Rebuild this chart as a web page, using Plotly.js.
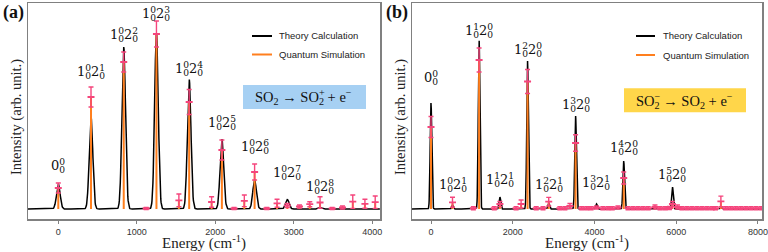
<!DOCTYPE html>
<html><head><meta charset="utf-8">
<script src="https://cdn.plot.ly/plotly-3.0.1.min.js"></script>
<style>html,body{margin:0;padding:0;background:#fff}#chart{width:768px;height:252px}</style>
</head><body><div id="chart"></div>
<script>
// ---------- Panel (a): SO2 -> SO2+ + e- ----------
const theoryEnergyA = [0, 417, 834, 1251, 1668, 2085, 2502, 2919, 3336];
const theoryIntensityA = [25, 92, 162, 176, 130, 70, 29, 9.5, 1.5];
const simEnergyA = [0, 417, 834, 1120, 1251, 1537, 1668, 1954, 2085, 2240, 2371, 2502, 2657, 2788, 2919, 3074, 3205, 3336, 3491, 3622, 3753, 3908, 4039];
const simIntensityA = [21, 112, 147, 0.5, 175, 8.7, 107, 7, 59, 0.5, 8.2, 37, 0.5, 5.7, 3.5, 2.5, 4.8, 6.5, 0.5, 1.5, 7.3, 5.2, 6.8];
const simErrorA = [5, 10, 10, 1, 13, 6.3, 12.5, 5.3, 10, 1, 5.8, 8, 1, 4, 2, 1.5, 2.5, 5.8, 1, 1.5, 6.7, 4.5, 6.2];
const labelTextA = ['0_0^0', '1_0^0 2_0^1', '1_0^0 2_0^2', '1_0^0 2_0^3', '1_0^0 2_0^4', '1_0^0 2_0^5', '1_0^0 2_0^6', '1_0^0 2_0^7', '1_0^0 2_0^8'];
const labelEnergyA = [0, 417, 834, 1251, 1668, 2085, 2502, 2919, 3336];
const labelLevelA = [43, 137, 174, 195, 140, 86, 62, 36, 22];
const tickValsA = [0, 1000, 2000, 3000, 4000];

// ---------- Panel (b): SO2- -> SO2 + e- ----------
const theoryEnergyB = [0, 526, 1177, 1686, 2363, 2881, 3538, 4049, 4716, 5909, 7094];
const theoryIntensityB = [106, 4, 169, 12, 148, 6, 93, 5, 48, 22, 1.5];
const simEnergyB = [0, 526, 1037, 1177, 1548, 1686, 2082, 2205, 2363, 2575, 2741, 2881, 3153, 3277, 3400, 3538, 3687, 3810, 3917, 4049, 4205, 4329, 4436, 4575, 4716, 4822, 4946, 5069, 5193, 5316, 5481, 5605, 5728, 5835, 5909, 6033, 6140, 6264, 6387, 6511, 6634, 6758, 6881, 6963, 7094, 7210, 7333, 7457, 7580, 7704, 7827, 7951, 8074];
const simIntensityB = [82, 6.7, 0.8, 149, 0.8, 5, 0.8, 5, 127.5, 0.8, 0.8, 7.3, 0.8, 0.8, 3, 66, 0.8, 0.8, 0.8, 1.5, 0.8, 0.8, 0.8, 1.5, 31, 0.8, 0.8, 0.8, 0.8, 0.8, 2, 0.8, 0.8, 1, 5, 2, 0.8, 0.8, 0.8, 0.8, 0.8, 0.8, 0.8, 0.8, 7.6, 0.8, 0.8, 0.8, 0.8, 0.8, 0.8, 0.8, 0.8];
const simErrorB = [10.5, 5, 1.6, 12, 1.6, 2.5, 1.6, 4, 12, 1.6, 1.6, 4.3, 1.6, 1.6, 2.5, 8.3, 1.6, 1.6, 1.6, 1.5, 1.6, 1.6, 1.6, 1.5, 6, 1.6, 1.6, 1.6, 1.6, 1.6, 2, 1.6, 1.6, 1.6, 2.5, 2, 1.6, 1.6, 1.6, 1.6, 1.6, 1.6, 1.6, 1.6, 5.3, 1.6, 1.6, 1.6, 1.6, 1.6, 1.6, 1.6, 1.6];
const labelTextB = ['0_0^0', '1_0^0 2_0^1', '1_0^1 2_0^0', '1_0^1 2_0^1', '1_0^2 2_0^0', '1_0^2 2_0^1', '1_0^3 2_0^0', '1_0^3 2_0^1', '1_0^4 2_0^0', '1_0^5 2_0^0'];
const labelEnergyB = [0, 526, 1177, 1686, 2363, 2881, 3538, 4049, 4716, 5909];
const labelLevelB = [131, 24, 178, 29, 159, 24, 104, 26, 61, 34];
const tickValsB = [0, 2000, 4000, 6000, 8000];

const legendNames = ['Theory Calculation', 'Quantum Simulation'];
const yTitleText = 'Intensity (arb. unit.)';
const xTitleText = 'Energy (cm<sup>-1</sup>)';

// ---------- styles ----------
const W = 768, H = 252;
const BLACK = '#000000', ORANGE = '#ff7f1e', PINK = '#f5457c';
const SERIF = 'Liberation Serif, Times New Roman, serif';
const MATH = 'DejaVu Serif, serif';
const SANS = 'Liberation Sans, Arial, sans-serif';
const px = x => x / W, py = y => 1 - y / H;

function broadened(energies, heights, sigma, xmin, xmax, step) {
  const xs = [], ys = [];
  for (let x = xmin; x <= xmax; x += step) {
    let s = 0;
    for (let k = 0; k < energies.length; k++) {
      const d = (x - energies[k]) / sigma;
      s += heights[k] * Math.exp(-0.5 * d * d);
    }
    xs.push(x); ys.push(s);
  }
  return {x: xs, y: ys};
}

function panelTraces(tE, tI, sE, sI, sErr, sigma, range, xa, ya) {
  const curve = broadened(tE, tI, sigma, range[0], range[1], 4);
  return [
    {type: 'scatter', mode: 'lines', x: curve.x, y: curve.y, xaxis: xa, yaxis: ya,
     line: {color: BLACK, width: 1.5}, name: legendNames[0], showlegend: false, hoverinfo: 'skip'},
    {type: 'scatter', mode: 'lines', x: sE.flatMap(e => [e, e, null]), y: sI.flatMap(v => [0, v, null]),
     xaxis: xa, yaxis: ya, line: {color: ORANGE, width: 2}, name: legendNames[1], showlegend: false, hoverinfo: 'skip'},
    {type: 'scatter', mode: 'markers', x: sE, y: sI, xaxis: xa, yaxis: ya,
     marker: {symbol: 'line-ew', size: 5, color: PINK, line: {color: PINK, width: 1.8}},
     error_y: {type: 'data', array: sErr, visible: true, color: PINK, thickness: 1.4, width: 2.5},
     showlegend: false, hoverinfo: 'skip'}
  ];
}

const rangeA = [-386, 4100], rangeB = [-465, 8100];
const yRange = [-10.3, 205.7];
const data = [
  ...panelTraces(theoryEnergyA, theoryIntensityA, simEnergyA, simIntensityA, simErrorA, 23, rangeA, 'x', 'y'),
  ...panelTraces(theoryEnergyB, theoryIntensityB, simEnergyB, simIntensityB, simErrorB, 20, rangeB, 'x2', 'y2')
];

// stacked sub/superscript labels (two overlaid texts of identical width)
const T = s => '<span style="color:rgba(0,0,0,0)">' + s + '</span>';
function stacked(label) {
  let low = '', high = '';
  label.split(' ').forEach(p => {
    const m = p.match(/^(\w)_(\w)\^(\w)$/);
    low += m[1] + '<sub>' + m[2] + '</sub>';
    high += T(m[1]) + '<sup>' + m[3] + '</sup>';
  });
  low += '<sup>' + T('0') + '</sup>';
  high += '<sub>' + T('0') + '</sub>';
  return [low, high];
}

const annotations = [];
function addLabels(texts, xs, ys, xref, yref) {
  texts.forEach((t, i) => {
    stacked(t).forEach(txt => annotations.push({
      xref: xref, yref: yref, x: xs[i], y: ys[i], text: txt, showarrow: false,
      xanchor: 'center', yanchor: 'middle', xshift: 3,
      font: {family: MATH, size: 13, color: '#111'}
    }));
  });
}
addLabels(labelTextA, labelEnergyA, labelLevelA, 'x', 'y');
addLabels(labelTextB, labelEnergyB, labelLevelB, 'x2', 'y2');

// reaction boxes
function reaction(xLeft, yMid, parts) {
  parts.forEach(txt => annotations.push({
    xref: 'paper', yref: 'paper', x: px(xLeft), y: py(yMid), text: txt, showarrow: false,
    xanchor: 'left', yanchor: 'middle', font: {family: SERIF, size: 14.5, color: '#111'}
  }));
}
reaction(253, 97.5, ['SO<sub>2</sub> → SO<sub>2</sub> + e<sup>−</sup>',
                      T('SO<sub>2</sub> → SO') + '<sup>+</sup>']);
reaction(634, 100.8, ['SO<sub>2</sub> → SO<sub>2</sub> + e<sup>−</sup>',
                       T('SO') + '<sup>−</sup><sub>' + T('2') + '</sub>']);

// legends (drawn) and panel letters
function legend(x0, x1, xText, yTop, yBot) {
  annotations.push({xref: 'paper', yref: 'paper', x: px(xText), y: py(yTop), text: legendNames[0], showarrow: false,
    xanchor: 'left', yanchor: 'middle', font: {family: SANS, size: 9.5, color: '#222'}});
  annotations.push({xref: 'paper', yref: 'paper', x: px(xText), y: py(yBot), text: legendNames[1], showarrow: false,
    xanchor: 'left', yanchor: 'middle', font: {family: SANS, size: 9.5, color: '#222'}});
  return [
    {type: 'line', xref: 'paper', yref: 'paper', x0: px(x0), x1: px(x1), y0: py(yTop), y1: py(yTop), line: {color: BLACK, width: 2}},
    {type: 'line', xref: 'paper', yref: 'paper', x0: px(x0), x1: px(x1), y0: py(yBot), y1: py(yBot), line: {color: ORANGE, width: 2}}
  ];
}
const shapes = [
  {type: 'rect', xref: 'paper', yref: 'paper', x0: px(243), x1: px(366), y0: py(109), y1: py(85), fillcolor: '#a6d0f3', line: {width: 0}, layer: 'below'},
  {type: 'rect', xref: 'paper', yref: 'paper', x0: px(624), x1: px(746), y0: py(112.3), y1: py(88.3), fillcolor: '#ffd64a', line: {width: 0}, layer: 'below'},
  ...legend(252, 272, 277, 36, 54.5),
  ...legend(636, 655, 661, 36, 55)
];
annotations.push({xref: 'paper', yref: 'paper', x: px(13), y: py(12), text: '<b>(a)</b>', showarrow: false,
  xanchor: 'center', yanchor: 'middle', font: {family: SERIF, size: 18, color: '#111'}});
annotations.push({xref: 'paper', yref: 'paper', x: px(397), y: py(12), text: '<b>(b)</b>', showarrow: false,
  xanchor: 'center', yanchor: 'middle', font: {family: SERIF, size: 18, color: '#111'}});

// y-axis titles, placed as in the reference
[16, 400].forEach(xc => annotations.push({xref: 'paper', yref: 'paper', x: px(xc), y: py(117), text: yTitleText,
  showarrow: false, textangle: -90, xanchor: 'center', yanchor: 'middle',
  font: {family: SERIF, size: 14.5, color: '#222'}}));

const frame = {showgrid: false, zeroline: false, showline: true, linecolor: '#808080', linewidth: 1.5, mirror: true};
const xCommon = Object.assign({}, frame, {ticks: 'outside', ticklen: 3, tickwidth: 1, tickcolor: '#808080',
  tickfont: {family: SANS, size: 9, color: '#333'}});
const yCommon = Object.assign({}, frame, {ticks: '', showticklabels: false, range: yRange,
  domain: [1 - 219.3 / H, 1 - 3.3 / H]});
const xTitle = {text: xTitleText, font: {family: SERIF, size: 15, color: '#222'}, standoff: 5};

const layout = {
  width: W, height: H, margin: {l: 0, r: 0, t: 0, b: 0},
  paper_bgcolor: '#fff', plot_bgcolor: '#fff', showlegend: false,
  xaxis: Object.assign({}, xCommon, {domain: [px(28), px(380)], range: rangeA, tickvals: tickValsA, anchor: 'y', title: xTitle}),
  yaxis: Object.assign({}, yCommon, {anchor: 'x'}),
  xaxis2: Object.assign({}, xCommon, {domain: [px(412), px(762)], range: rangeB, tickvals: tickValsB, anchor: 'y2', title: xTitle}),
  yaxis2: Object.assign({}, yCommon, {anchor: 'x2'}),
  shapes: shapes, annotations: annotations
};
Plotly.newPlot('chart', data, layout, {staticPlot: true, displayModeBar: false});
</script></body></html>
